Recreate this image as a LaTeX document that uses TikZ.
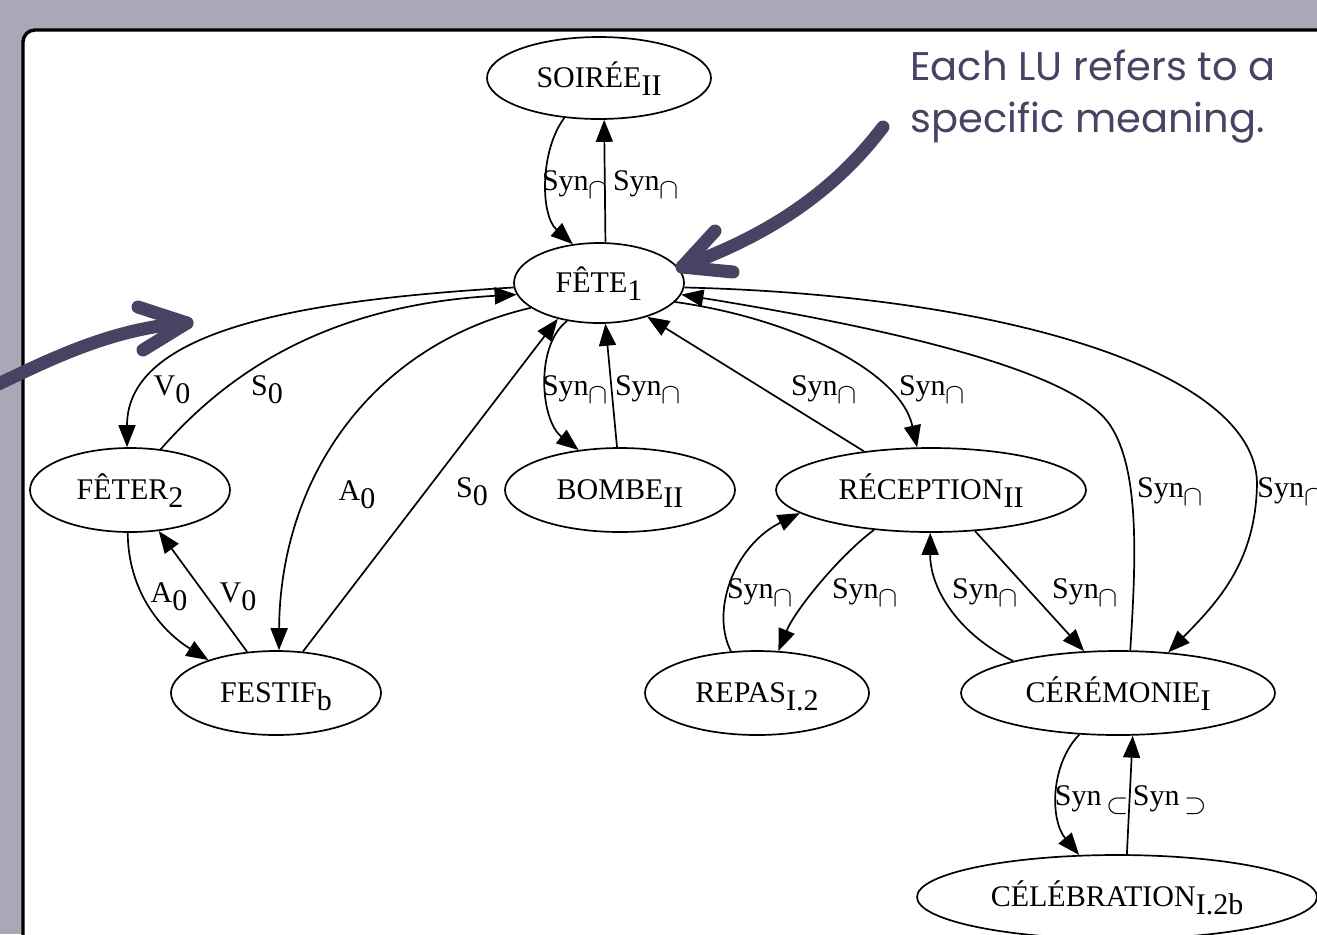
\documentclass[tikz,border=0pt]{standalone}
\usepackage{fontspec}
\setmainfont{Liberation Serif}
\newfontfamily\notefont{Poppins}
\usetikzlibrary{arrows.meta,shapes.geometric}
\definecolor{backdrop}{RGB}{168,168,183}
\definecolor{ink}{RGB}{70,67,99}
% lowered index written after a lexical unit or a relation name
\newcommand\lsub[1]{\raisebox{-4pt}{#1}}
\newcommand\syncap{Syn\lsub{$\cap$}}
\begin{document}
\begin{tikzpicture}[x=0.5pt,y=-0.5pt,
  lu/.style={ellipse,draw,line width=0.85pt,inner sep=0pt,
    text height=12pt,text depth=3pt,font=\fontsize{15}{18}\selectfont},
  rel/.style={draw,line width=0.85pt,-{Triangle[length=11pt,width=8.5pt]}},
  lbl/.style={anchor=base,inner sep=0pt,font=\fontsize{15}{18}\selectfont},
  pointer/.style={draw=ink,line width=6.5pt,line cap=round,line join=round}]
\useasboundingbox (0,0) rectangle (1317,934);
\fill[backdrop] (0,0) rectangle (1317,934);
\draw[line width=1.7pt,fill=white,rounded corners=6pt] (23,30) rectangle (1400,1000);

% lexical units
\node[lu,minimum width=112pt,minimum height=41pt] (soiree) at (599,78) {SOIRÉE\lsub{II}};
\node[lu,minimum width=85pt,minimum height=40pt] (fete) at (599,283) {FÊTE\lsub{1}};
\node[lu,minimum width=100pt,minimum height=42pt] (feter) at (130,490) {FÊTER\lsub{2}};
\node[lu,minimum width=105pt,minimum height=42pt] (festif) at (276,693) {FESTIF\lsub{b}};
\node[lu,minimum width=115pt,minimum height=42pt] (bombe) at (620,490) {BOMBE\lsub{II}};
\node[lu,minimum width=155pt,minimum height=42pt] (recep) at (931,490) {RÉCEPTION\lsub{II}};
\node[lu,minimum width=112pt,minimum height=42pt] (repas) at (757,693) {REPAS\lsub{I.2}};
\node[lu,minimum width=157pt,minimum height=42pt] (cerem) at (1118,693) {CÉRÉMONIE\lsub{I}};
\node[lu,minimum width=200pt,minimum height=42pt] (celeb) at (1117,897) {CÉLÉBRATION\lsub{I.2b}};

% relations
\draw[rel] (soiree.229) .. controls (540,150) and (540,215) .. (fete.124);
\draw[rel] (fete.81) -- (soiree.277);
\draw[rel] (fete.183) .. controls (300,300) and (127,330) .. (feter.94);
\draw[rel] (feter.53) .. controls (230,370) and (330,305) .. (fete.188);
\draw[rel] (fete.200) .. controls (370,345) and (280,480) .. (festif.86);
\draw[rel] (festif.57) -- (fete.221);
\draw[rel] (feter.267) .. controls (128,590) and (160,630) .. (festif.154);
\draw[rel] (festif.125) -- (feter.305);
\draw[rel] (fete.230) .. controls (535,345) and (540,420) .. (bombe.136);
\draw[rel] (bombe.94) -- (fete.279);
\draw[rel] (recep.150) -- (fete.325);
\draw[rel] (fete.346) .. controls (790,318) and (900,370) .. (recep.108);
\draw[rel] (cerem.74) .. controls (1136,560) and (1140,470) .. (1110,425)
  .. controls (1075,372) and (900,330) .. (fete.352);
\draw[rel] (fete.357) .. controls (1000,295) and (1255,370) .. (1257,483)
  .. controls (1256,560) and (1220,600) .. (cerem.39);
\draw[rel] (recep.215) .. controls (840,555) and (795,610) .. (repas.63);
\draw[rel] (repas.122) .. controls (710,610) and (735,545) .. (recep.190);
\draw[rel] (recep.317) -- (cerem.129);
\draw[rel] (cerem.163) .. controls (960,635) and (930,590) .. (recep.269);
\draw[rel] (cerem.227) .. controls (1050,765) and (1050,820) .. (celeb.132);
\draw[rel] (celeb.77) -- (cerem.289);

% relation names
\node[lbl] (n1) at (575,190) {\syncap};
\node[lbl] (n2) at (646,190) {\syncap};
\node[lbl] (n3) at (172,395) {V\lsub{0}};
\node[lbl] (n4) at (267,395) {S\lsub{0}};
\node[lbl] (n5) at (357,500) {A\lsub{0}};
\node[lbl] (n6) at (472,497) {S\lsub{0}};
\node[lbl] (n7) at (169,602) {A\lsub{0}};
\node[lbl] (n8) at (238,602) {V\lsub{0}};
\node[lbl] (n9) at (575,395) {\syncap};
\node[lbl] (n10) at (648,395) {\syncap};
\node[lbl] (n11) at (824,395) {\syncap};
\node[lbl] (n12) at (932,395) {\syncap};
\node[lbl] (n13) at (1170,497) {\syncap};
\node[lbl,anchor=base west] (n14) at (1257,497) {\syncap};
\node[lbl] (n15) at (865,598) {\syncap};
\node[lbl] (n16) at (760,598) {\syncap};
\node[lbl] (n17) at (985,598) {\syncap};
\node[lbl] (n18) at (1085,598) {\syncap};
\node[lbl] (n19) at (1092,805) {Syn\,\lsub{$\subset$}};
\node[lbl] (n20) at (1170,805) {Syn\,\lsub{$\supset$}};

% annotation and pointers
\node[anchor=base west,inner sep=0pt,align=left,text=ink,
  font=\notefont\fontsize{20}{26}\selectfont] (note) at (910,132)
  {Each LU refers to a\\specific meaning.};
\coordinate (tailA) at (883,127);
\coordinate (tipA) at (682,267);
\draw[pointer] (tailA) .. controls (820,210) and (740,245) .. (tipA);
\draw[pointer] (715,231) -- (tipA) -- (733,272);
\coordinate (tailB) at (-10,388);
\coordinate (tipB) at (187,323);
\draw[pointer] (tailB) .. controls (45,362) and (110,328) .. (tipB);
\draw[pointer] (138,307) -- (tipB) -- (143,350);
\end{tikzpicture}
\end{document}
